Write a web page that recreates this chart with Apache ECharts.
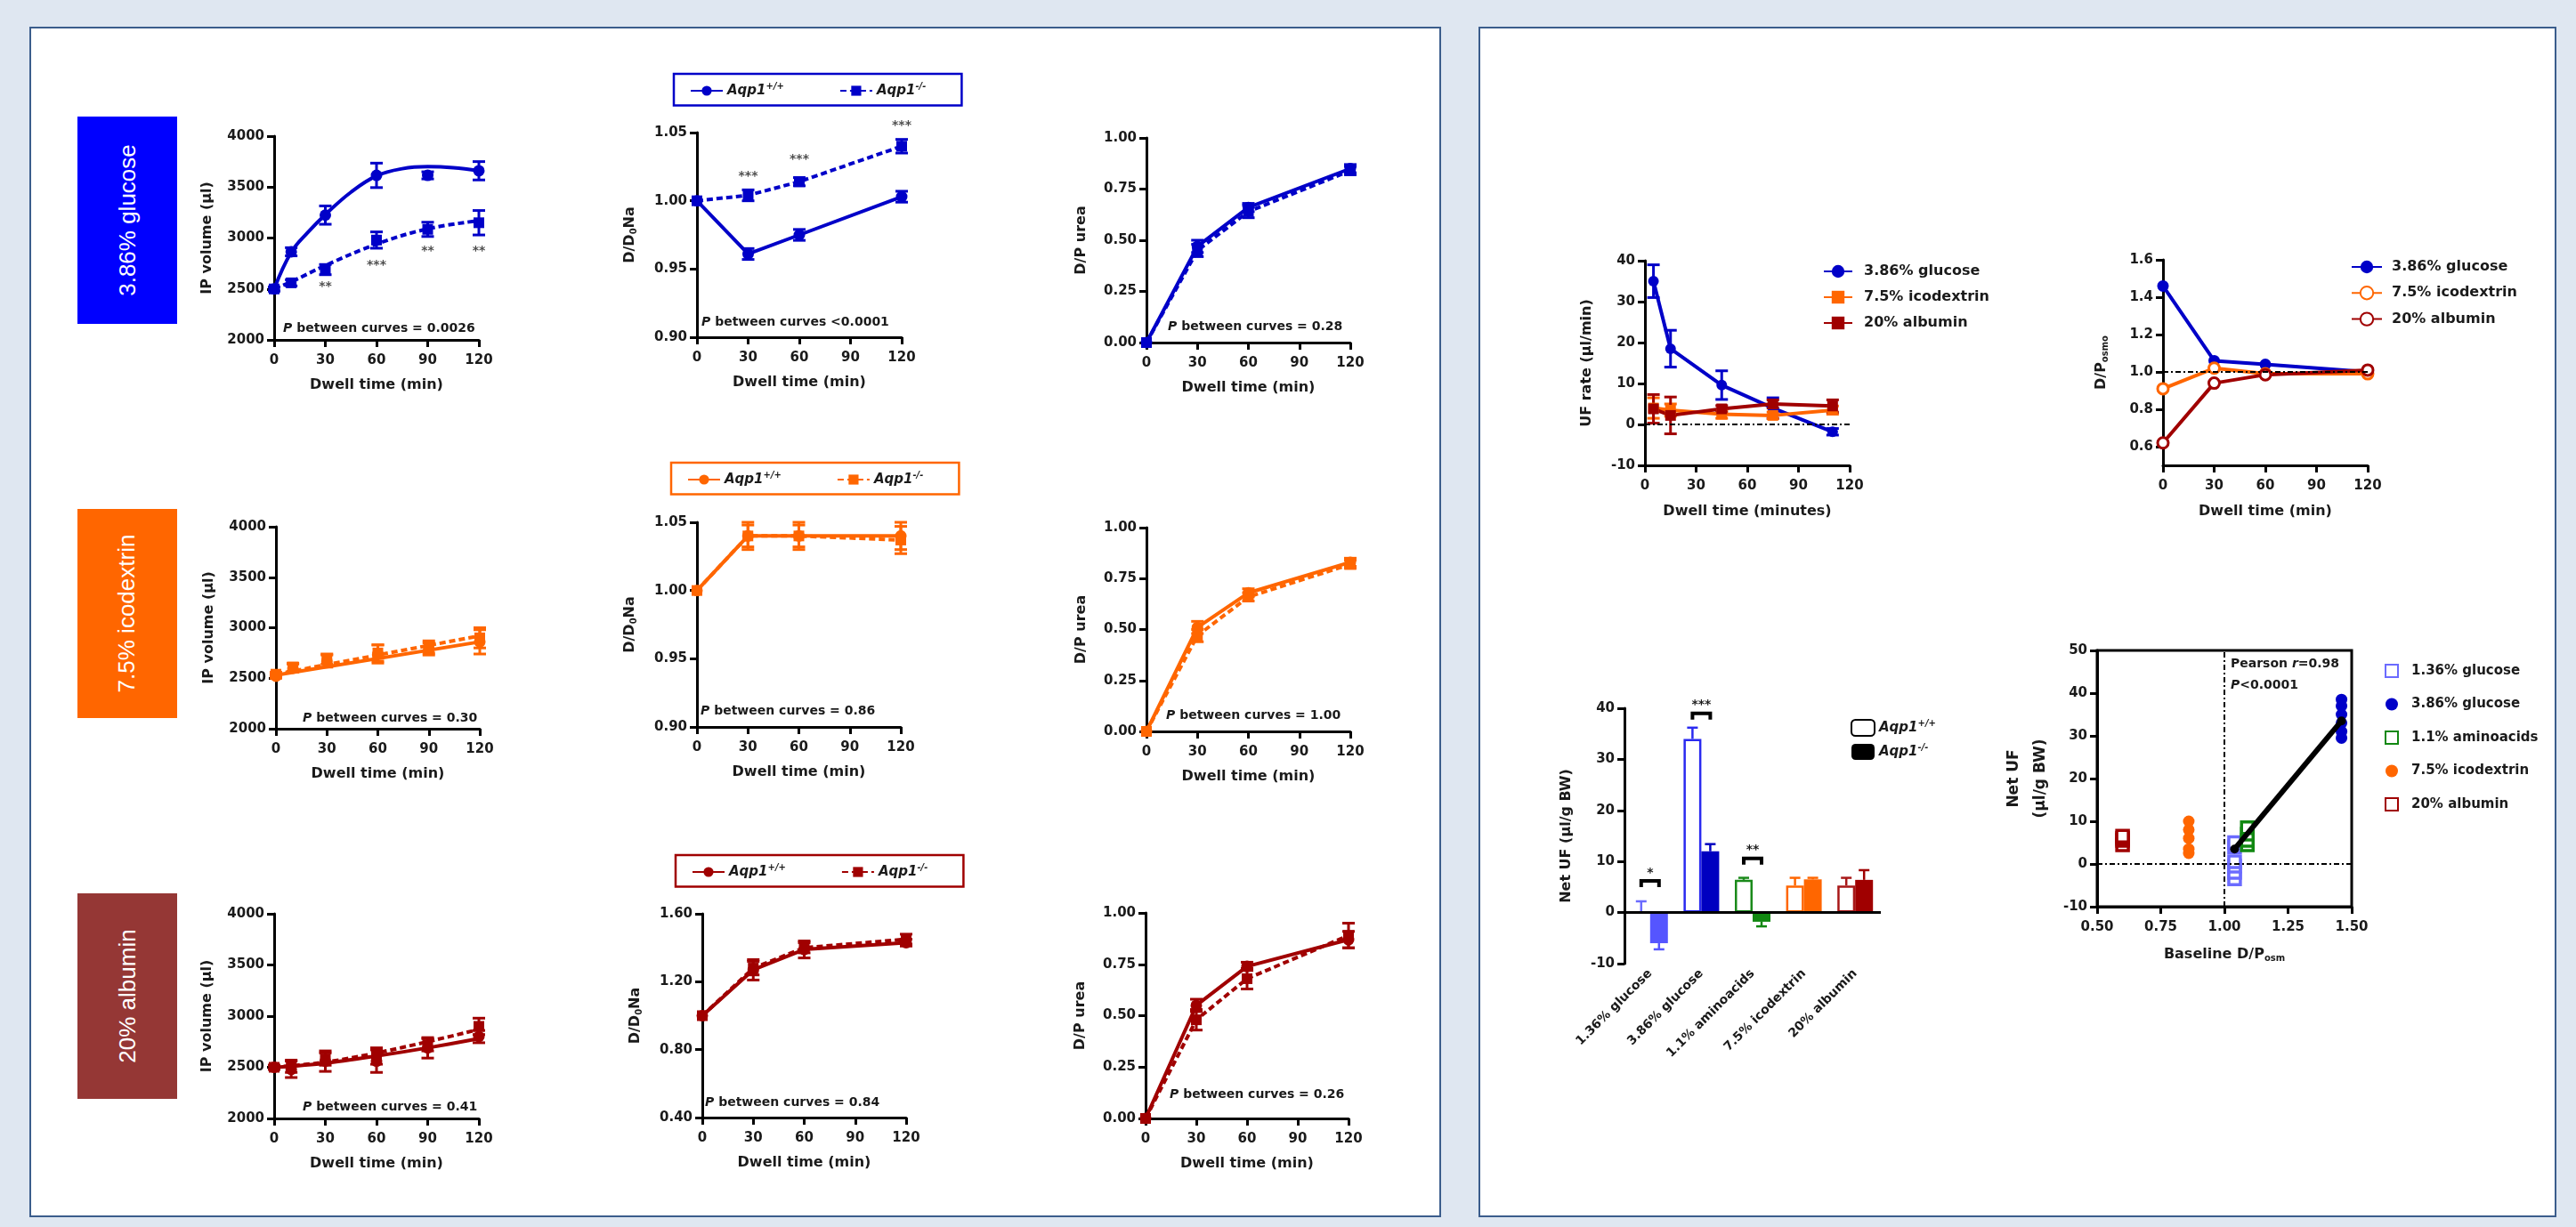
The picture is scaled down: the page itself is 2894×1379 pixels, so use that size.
<!doctype html>
<html>
<head>
<meta charset="utf-8">
<title>Aqp1 - dialysis dwell</title>
<script src="https://cdn.jsdelivr.net/npm/echarts@6/dist/echarts.min.js"></script>
<style>
html, body { margin: 0; padding: 0; background: #dfe7f1; }
#wrap { position: relative; width: 2894px; height: 1379px; }
.panel { position: absolute; background: #fff; border: 2px solid #3b5d8c; box-sizing: border-box; }
.tag { position: absolute; color: #fff; font-family: 'Liberation Sans', Arial, sans-serif; font-size: 26px;
       display: flex; align-items: center; justify-content: center; }
.tag span { transform: rotate(-90deg); white-space: nowrap; }
#main { position: absolute; left: 0; top: 0; width: 2894px; height: 1379px; }
</style>
</head>
<body>
<div id="wrap">
  <div class="panel" style="left:33px;top:30px;width:1586px;height:1338px"></div>
  <div class="panel" style="left:1661px;top:30px;width:1211px;height:1338px"></div>
  <div class="tag" style="left:87px;top:131px;width:112px;height:233px;background:#0000ff"><span>3.86% glucose</span></div>
  <div class="tag" style="left:87px;top:572px;width:112px;height:235px;background:#ff6600"><span>7.5% icodextrin</span></div>
  <div class="tag" style="left:87px;top:1004px;width:112px;height:231px;background:#953735"><span>20% albumin</span></div>
  <div id="main"></div>
</div>
<script>
var BLUE = '#0000c8', ORANGE = '#ff6600', RED = '#a00000';
var FONT = 'DejaVu Sans';
var INK = '#1a1a1a';

// ---- time points ----
var tVol = [0, 10, 30, 60, 90, 120];
var tNa = [0, 30, 60, 120];
var tUrea = [0, 30, 60, 120];

// ---- 3.86% glucose ----
var glcVolWt = [2500, 2865, 3225, 3615, 3615, 3660];
var glcVolWtErr = [20, 40, 90, 120, 35, 90];
var glcVolKo = [2500, 2560, 2690, 2980, 3085, 3150];
var glcVolKoErr = [20, 30, 50, 80, 70, 120];
var glcFitWtT = [0, 10, 20, 30, 45, 60, 75, 90, 105, 120];
var glcFitWt = [2500, 2860, 3060, 3230, 3450, 3610, 3680, 3700, 3690, 3660];
var glcFitKoT = [0, 10, 30, 60, 90, 120];
var glcFitKo = [2500, 2570, 2730, 2940, 3090, 3170];
var glcVolStarT = [30, 60, 90, 120];
var glcVolStarY = [2520, 2730, 2870, 2870];
var glcVolStars = ['**', '***', '**', '**'];

var glcNaWt = [1.000, 0.961, 0.975, 1.003];
var glcNaWtErr = [0, 0.004, 0.004, 0.004];
var glcNaKo = [1.000, 1.004, 1.014, 1.040];
var glcNaKoErr = [0, 0.004, 0.003, 0.005];
var glcNaStarT = [30, 60, 120];
var glcNaStarY = [1.018, 1.030, 1.055];
var glcNaStars = ['***', '***', '***'];

var glcUreaWt = [0, 0.47, 0.66, 0.85];
var glcUreaWtErr = [0, 0.03, 0.02, 0.02];
var glcUreaKo = [0, 0.45, 0.64, 0.84];
var glcUreaKoErr = [0, 0.03, 0.03, 0.02];

// ---- 7.5% icodextrin ----
var icoVolWt = [2520, 2600, 2670, 2740, 2790, 2860];
var icoVolWtErr = [20, 40, 60, 90, 60, 120];
var icoVolKo = [2540, 2610, 2690, 2750, 2810, 2900];
var icoVolKoErr = [20, 40, 50, 80, 60, 100];
var icoFitT = [0, 120];
var icoFitWt = [2530, 2860];
var icoFitKo = [2540, 2920];

var icoNaWt = [1.000, 1.040, 1.040, 1.040];
var icoNaWtErr = [0, 0.010, 0.010, 0.010];
var icoNaKo = [1.000, 1.040, 1.040, 1.037];
var icoNaKoErr = [0, 0.008, 0.008, 0.010];

var icoUreaWt = [0, 0.51, 0.68, 0.83];
var icoUreaWtErr = [0, 0.03, 0.02, 0.02];
var icoUreaKo = [0, 0.47, 0.66, 0.82];
var icoUreaKoErr = [0, 0.03, 0.02, 0.02];

// ---- 20% albumin ----
var albVolWt = [2500, 2480, 2560, 2560, 2690, 2800];
var albVolWtErr = [20, 80, 100, 110, 100, 60];
var albVolKo = [2500, 2510, 2580, 2610, 2720, 2900];
var albVolKoErr = [20, 60, 60, 80, 60, 80];
var albFitT = [0, 30, 60, 90, 120];
var albFitWt = [2500, 2540, 2610, 2690, 2780];
var albFitKo = [2500, 2550, 2640, 2750, 2870];

var albNaWt = [1.00, 1.27, 1.39, 1.43];
var albNaWtErr = [0, 0.06, 0.05, 0.02];
var albNaKo = [1.00, 1.28, 1.40, 1.45];
var albNaKoErr = [0, 0.04, 0.03, 0.03];

var albUreaWt = [0, 0.55, 0.74, 0.87];
var albUreaWtErr = [0, 0.03, 0.02, 0.04];
var albUreaKo = [0, 0.48, 0.68, 0.89];
var albUreaKoErr = [0, 0.05, 0.05, 0.06];

// ---- right panel: UF rate ----
var tUf = [5, 15, 45, 75, 110];
var ufGlc = [35, 18.5, 9.6, 4, -1.8];
var ufGlcErr = [4, 4.5, 3.5, 2.5, 0.8];
var ufIco = [4, 3.5, 2.5, 2.2, 3.5];
var ufIcoErr = [2.5, 1.5, 1, 0.8, 1];
var ufAlb = [3.8, 2.2, 3.8, 5, 4.5];
var ufAlbErr = [3.5, 4.5, 0.8, 1, 1.5];

// ---- D/P osmo ----
var tOsm = [0, 30, 60, 120];
var osmGlc = [1.46, 1.06, 1.04, 1.00];
var osmIco = [0.91, 1.02, 0.99, 0.99];
var osmAlb = [0.62, 0.94, 0.985, 1.01];
var osmTicks = [0.6, 0.8, 1.0, 1.2, 1.4, 1.6];

// ---- Net UF bars ----
var netUfCats = ['1.36% glucose', '3.86% glucose', '1.1% aminoacids', '7.5% icodextrin', '20% albumin'];
var netUfWt = [0, 34, 6.4, 5.3, 5.3];
var netUfWtErr = [2.2, 2.2, 0.4, 1.5, 1.5];
var netUfKo = [-6, 12, -1.8, 6.5, 6.4];
var netUfKoErr = [1.2, 1.4, 0.9, 0.3, 1.9];
var sigCat = [0, 1, 2];
var sigLevel = [6.2, 39, 10.6];
var sigText = ['*', '***', '**'];
var catOpen = ['#6b6bff', '#2a2af0', '#1a8a1a', '#ff6600', '#a81818'];
var catFill = ['#5555ff', '#0000c0', '#118811', '#ff6600', '#a00000'];

// ---- Net UF vs baseline D/P osm ----
var scAlbX = [0.60, 0.60, 0.60, 0.60];
var scAlbY = [4.5, 5.5, 6, 6.5];
var scIcoX = [0.86, 0.86, 0.86, 0.86, 0.86];
var scIcoY = [2.5, 3.5, 6, 8, 10];
var sc136X = [1.04, 1.04, 1.04, 1.04, 1.04, 1.04];
var sc136Y = [-3.5, -2, -0.5, 0.5, 4, 5];
var scAaX = [1.09, 1.09, 1.09, 1.09];
var scAaY = [4.5, 5.5, 7, 8.5];
var sc386X = [1.46, 1.46, 1.46, 1.46, 1.46, 1.46];
var sc386Y = [29.5, 31, 33, 35, 37, 38.5];
var regX = [1.04, 1.46];
var regY = [3.5, 33.5];

var legendLabels = {
  glcNaWt: '{i|Aqp1}{s|+/+}', glcNaKo: '{i|Aqp1}{s|-/-}',
  icoNaWt: '{i|Aqp1}{s|+/+}', icoNaKo: '{i|Aqp1}{s|-/-}',
  albNaWt: '{i|Aqp1}{s|+/+}', albNaKo: '{i|Aqp1}{s|-/-}',
  ufGlc: '3.86% glucose', ufIco: '7.5% icodextrin', ufAlb: '20% albumin',
  osmGlc: '3.86% glucose', osmIco: '7.5% icodextrin', osmAlb: '20% albumin',
  barWt: '{i|Aqp1}{s|+/+}', barKo: '{i|Aqp1}{s|-/-}',
  sc136: '1.36% glucose', sc386: '3.86% glucose', scAa: '1.1% aminoacids',
  scIco: '7.5% icodextrin', scAlb: '20% albumin'
};

var grids = [], xAxes = [], yAxes = [], series = [], titles = [], legends = [];

function zip(a, b) { return a.map(function (v, i) { return [v, b[i]]; }); }

function nameStyle(size) {
  var s = size || 16;
  return {
    fontFamily: FONT, fontSize: s, fontWeight: 'bold', color: INK,
    rich: {
      a: { fontFamily: FONT, fontSize: s, fontWeight: 'bold', color: INK },
      b: { fontFamily: FONT, fontSize: 10, fontWeight: 'bold', color: INK, padding: [9, 0, 0, 0] }
    }
  };
}
function axisBase(gi, min, max, interval, name, dec, gap, labelMargin) {
  return {
    type: 'value', gridIndex: gi, min: min, max: max, interval: interval,
    name: name, nameLocation: 'middle', nameGap: gap, nameTextStyle: nameStyle(),
    axisLine: { show: true, onZero: false, lineStyle: { color: '#000', width: 3 } },
    axisTick: { show: true, length: 8, lineStyle: { color: '#000', width: 3 } },
    splitLine: { show: false },
    axisLabel: {
      margin: labelMargin, fontFamily: FONT, fontSize: 15, fontWeight: 'bold', color: INK,
      formatter: function (v) { return v.toFixed(dec); }
    }
  };
}
function xVal(gi, min, max, interval, name, dec, gap) { return axisBase(gi, min, max, interval, name, dec, gap || 43, 16); }
function yVal(gi, min, max, interval, name, dec, gap) { return axisBase(gi, min, max, interval, name, dec, gap || 66, 11); }

function lineS(gi, name, data, color, dashed, symbol, size, hollow, smooth) {
  return {
    type: 'line', name: name, xAxisIndex: gi, yAxisIndex: gi, data: data,
    symbol: symbol || 'none', symbolSize: size || 13, showSymbol: !!symbol,
    smooth: smooth || false,
    lineStyle: { color: color, width: 4, type: dashed ? [7, 4] : 'solid' },
    itemStyle: { color: hollow ? '#fff' : color, borderColor: color, borderWidth: hollow ? 3 : 0 },
    z: 4
  };
}
function markS(gi, name, data, color, symbol, size) {
  return {
    type: 'scatter', name: name, xAxisIndex: gi, yAxisIndex: gi, data: data,
    symbol: symbol, symbolSize: size || 13, itemStyle: { color: color, opacity: 1 }, z: 5
  };
}
function errSeries(gi, color, ts, vals, errs, capW) {
  var d = [];
  for (var i = 0; i < ts.length; i++) {
    if (errs[i] > 0) d.push([ts[i], vals[i] - errs[i], vals[i] + errs[i]]);
  }
  return {
    type: 'custom', xAxisIndex: gi, yAxisIndex: gi, silent: true, z: 3, data: d,
    encode: { x: 0, y: [1, 2] },
    renderItem: function (params, api) {
      var a = api.coord([api.value(0), api.value(1)]);
      var b = api.coord([api.value(0), api.value(2)]);
      var st = { stroke: color, lineWidth: 3 };
      var c = capW || 7;
      return { type: 'group', children: [
        { type: 'line', shape: { x1: a[0], y1: a[1], x2: b[0], y2: b[1] }, style: st },
        { type: 'line', shape: { x1: a[0] - c, y1: a[1], x2: a[0] + c, y2: a[1] }, style: st },
        { type: 'line', shape: { x1: b[0] - c, y1: b[1], x2: b[0] + c, y2: b[1] }, style: st }
      ] };
    }
  };
}
function starS(gi, ts, ys, txt) {
  return {
    type: 'scatter', xAxisIndex: gi, yAxisIndex: gi, symbolSize: 1, clip: false, silent: true,
    itemStyle: { color: 'rgba(0,0,0,0)' },
    data: ts.map(function (t, i) { return { value: [t, ys[i]], name: txt[i] }; }),
    label: { show: true, position: 'inside', formatter: '{b}', fontFamily: FONT, fontSize: 14, fontWeight: 'bold', color: INK },
    z: 6
  };
}
function note(text, left, top, size) {
  var s = size || 14;
  titles.push({
    text: text, left: left, top: top, padding: 0,
    textStyle: {
      fontFamily: FONT, fontSize: s, fontWeight: 'bold', color: INK,
      rich: {
        n: { fontFamily: FONT, fontSize: s, fontWeight: 'bold', color: INK },
        i: { fontFamily: FONT, fontSize: s, fontWeight: 'bold', fontStyle: 'italic', color: INK }
      }
    }
  });
}
var legendRich = {
  i: { fontFamily: FONT, fontSize: 15, fontWeight: 'bold', fontStyle: 'italic', color: INK },
  s: { fontFamily: FONT, fontSize: 10, fontWeight: 'bold', fontStyle: 'italic', color: INK, padding: [0, 0, 10, 0] }
};
function legendFmt(n) { return legendLabels[n] || n; }

// one dwell-time panel of the left block
function addDwellPanel(p) {
  var gi = grids.length;
  grids.push({ left: p.box[0], top: p.box[1], width: p.box[2], height: p.box[3] });
  xAxes.push(xVal(gi, 0, 120, 30, 'Dwell time (min)', 0));
  yAxes.push(yVal(gi, p.ymin, p.ymax, p.step, p.yname, p.dec, p.ygap));
  if (p.fitWt) {
    series.push(lineS(gi, p.id + 'WtFit', zip(p.fitWtT, p.fitWt), p.color, false, null, 0, false, p.smooth));
    series.push(lineS(gi, p.id + 'KoFit', zip(p.fitKoT, p.fitKo), p.color, true, null, 0, false, p.smooth));
    series.push(markS(gi, p.id + 'Wt', zip(p.t, p.wt), p.color, 'circle', 13));
    series.push(markS(gi, p.id + 'Ko', zip(p.t, p.ko), p.color, 'rect', 12));
  } else {
    series.push(lineS(gi, p.id + 'Wt', zip(p.t, p.wt), p.color, false, 'circle', 13));
    series.push(lineS(gi, p.id + 'Ko', zip(p.t, p.ko), p.color, true, 'rect', 12));
  }
  series.push(errSeries(gi, p.color, p.t, p.wt, p.wtErr));
  series.push(errSeries(gi, p.color, p.t, p.ko, p.koErr));
  if (p.starT) series.push(starS(gi, p.starT, p.starY, p.stars));
  note(p.ptext, p.pPos[0], p.pPos[1]);
  if (p.legend) {
    legends.push({
      data: [p.id + 'Wt', p.id + 'Ko'], left: p.legend[0], top: p.legend[1], orient: 'horizontal',
      borderColor: p.color, borderWidth: 2.5, padding: [9, 40, 9, 18], itemGap: 62,
      itemWidth: 36, itemHeight: 14, selectedMode: false, formatter: legendFmt,
      textStyle: { fontFamily: FONT, fontSize: 15, fontWeight: 'bold', color: INK, rich: legendRich }
    });
  }
}

var VOL = '{a|IP volume (µl)}';
var NA = '{a|D/D}{b|0}{a|Na}';
var UREA = '{a|D/P urea}';

// row 1 - 3.86% glucose
addDwellPanel({ id: 'glcVol', box: [308, 153, 230, 229], ymin: 2000, ymax: 4000, step: 500, yname: VOL, dec: 0, ygap: 67,
  color: BLUE, t: tVol, wt: glcVolWt, wtErr: glcVolWtErr, ko: glcVolKo, koErr: glcVolKoErr,
  fitWtT: glcFitWtT, fitWt: glcFitWt, fitKoT: glcFitKoT, fitKo: glcFitKo, smooth: 0.4,
  starT: glcVolStarT, starY: glcVolStarY, stars: glcVolStars,
  ptext: '{i|P} between curves = 0.0026', pPos: [318, 362] });
addDwellPanel({ id: 'glcNa', box: [783, 149, 230, 230], ymin: 0.90, ymax: 1.05, step: 0.05, yname: NA, dec: 2, ygap: 66,
  color: BLUE, t: tNa, wt: glcNaWt, wtErr: glcNaWtErr, ko: glcNaKo, koErr: glcNaKoErr,
  starT: glcNaStarT, starY: glcNaStarY, stars: glcNaStars,
  ptext: '{i|P} between curves <0.0001', pPos: [788, 355], legend: [757, 83] });
addDwellPanel({ id: 'glcUrea', box: [1288, 155, 229, 230], ymin: 0, ymax: 1, step: 0.25, yname: UREA, dec: 2, ygap: 65,
  color: BLUE, t: tUrea, wt: glcUreaWt, wtErr: glcUreaWtErr, ko: glcUreaKo, koErr: glcUreaKoErr,
  ptext: '{i|P} between curves = 0.28', pPos: [1312, 360] });

// row 2 - 7.5% icodextrin
addDwellPanel({ id: 'icoVol', box: [310, 592, 229, 227], ymin: 2000, ymax: 4000, step: 500, yname: VOL, dec: 0, ygap: 67,
  color: ORANGE, t: tVol, wt: icoVolWt, wtErr: icoVolWtErr, ko: icoVolKo, koErr: icoVolKoErr,
  fitWtT: icoFitT, fitWt: icoFitWt, fitKoT: icoFitT, fitKo: icoFitKo,
  ptext: '{i|P} between curves = 0.30', pPos: [340, 800] });
addDwellPanel({ id: 'icoNa', box: [783, 587, 229, 230], ymin: 0.90, ymax: 1.05, step: 0.05, yname: NA, dec: 2, ygap: 66,
  color: ORANGE, t: tNa, wt: icoNaWt, wtErr: icoNaWtErr, ko: icoNaKo, koErr: icoNaKoErr,
  ptext: '{i|P} between curves = 0.86', pPos: [787, 792], legend: [754, 520] });
addDwellPanel({ id: 'icoUrea', box: [1288, 593, 229, 229], ymin: 0, ymax: 1, step: 0.25, yname: UREA, dec: 2, ygap: 65,
  color: ORANGE, t: tUrea, wt: icoUreaWt, wtErr: icoUreaWtErr, ko: icoUreaKo, koErr: icoUreaKoErr,
  ptext: '{i|P} between curves = 1.00', pPos: [1310, 797] });

// row 3 - 20% albumin
addDwellPanel({ id: 'albVol', box: [308, 1027, 230, 230], ymin: 2000, ymax: 4000, step: 500, yname: VOL, dec: 0, ygap: 67,
  color: RED, t: tVol, wt: albVolWt, wtErr: albVolWtErr, ko: albVolKo, koErr: albVolKoErr,
  fitWtT: albFitT, fitWt: albFitWt, fitKoT: albFitT, fitKo: albFitKo, smooth: 0.3,
  ptext: '{i|P} between curves = 0.41', pPos: [340, 1237] });
addDwellPanel({ id: 'albNa', box: [789, 1027, 229, 229], ymin: 0.40, ymax: 1.60, step: 0.40, yname: NA, dec: 2, ygap: 66,
  color: RED, t: tNa, wt: albNaWt, wtErr: albNaWtErr, ko: albNaKo, koErr: albNaKoErr,
  ptext: '{i|P} between curves = 0.84', pPos: [792, 1232], legend: [759, 961] });
addDwellPanel({ id: 'albUrea', box: [1287, 1026, 228, 231], ymin: 0, ymax: 1, step: 0.25, yname: UREA, dec: 2, ygap: 65,
  color: RED, t: tUrea, wt: albUreaWt, wtErr: albUreaWtErr, ko: albUreaKo, koErr: albUreaKoErr,
  ptext: '{i|P} between curves = 0.26', pPos: [1314, 1223] });

// ---- right: UF rate ----
var giUf = grids.length;
grids.push({ left: 1848, top: 293, width: 230, height: 230 });
xAxes.push(xVal(giUf, 0, 120, 30, 'Dwell time (minutes)', 0, 44));
yAxes.push(yVal(giUf, -10, 40, 10, 'UF rate (µl/min)', 0, 57));
var ufDefs = [['ufGlc', ufGlc, ufGlcErr, BLUE, 'circle'], ['ufIco', ufIco, ufIcoErr, ORANGE, 'rect'], ['ufAlb', ufAlb, ufAlbErr, RED, 'rect']];
ufDefs.forEach(function (d) {
  series.push(lineS(giUf, d[0], zip(tUf, d[1]), d[3], false, d[4], 12));
  series.push(errSeries(giUf, d[3], tUf, d[1], d[2]));
});
series[series.length - 2].markLine = {
  silent: true, symbol: 'none', label: { show: false },
  lineStyle: { color: '#000', width: 2, type: [6, 3, 2, 3] }, data: [{ yAxis: 0 }]
};
legends.push({
  data: ['ufGlc', 'ufIco', 'ufAlb'], left: 2043, top: 292, orient: 'vertical', itemGap: 13,
  itemWidth: 32, itemHeight: 18, selectedMode: false, formatter: legendFmt,
  textStyle: { fontFamily: FONT, fontSize: 16, fontWeight: 'bold', color: INK, padding: [0, 0, 0, 8] }
});

// ---- right: D/P osmo ----
var giOsm = grids.length;
grids.push({ left: 2430, top: 292, width: 230, height: 231 });
xAxes.push(xVal(giOsm, 0, 120, 30, 'Dwell time (min)', 0, 44));
var osmY = yVal(giOsm, 0.5, 1.6, 0.1, '{a|D/P}{b|osmo}', 1, 60);
osmY.axisLabel.customValues = osmTicks;
osmY.axisTick.customValues = osmTicks;
yAxes.push(osmY);
series.push(lineS(giOsm, 'osmGlc', zip(tOsm, osmGlc), BLUE, false, 'circle', 13));
series.push(lineS(giOsm, 'osmIco', zip(tOsm, osmIco), ORANGE, false, 'circle', 12, true));
series.push(lineS(giOsm, 'osmAlb', zip(tOsm, osmAlb), RED, false, 'circle', 12, true));
series[series.length - 3].markLine = {
  silent: true, symbol: 'none', label: { show: false },
  lineStyle: { color: '#000', width: 2, type: [6, 3, 2, 3] }, data: [{ yAxis: 1 }]
};
legends.push({
  data: ['osmGlc', 'osmIco', 'osmAlb'], left: 2636, top: 287, orient: 'vertical', itemGap: 13,
  itemWidth: 34, itemHeight: 18, selectedMode: false, formatter: legendFmt,
  textStyle: { fontFamily: FONT, fontSize: 16, fontWeight: 'bold', color: INK, padding: [0, 0, 0, 6] }
});

// ---- right: Net UF bars ----
var giBar = grids.length;
grids.push({ left: 1825, top: 796, width: 288, height: 287 });
xAxes.push({
  type: 'category', gridIndex: giBar, data: netUfCats,
  axisLine: { show: false }, axisTick: { show: false },
  axisLabel: { rotate: 45, margin: 9, interval: 0, fontFamily: FONT, fontSize: 14, fontWeight: 'bold', color: INK }
});
yAxes.push(yVal(giBar, -10, 40, 10, 'Net UF (µl/g BW)', 0, 57));
series.push({
  type: 'bar', name: 'barWt', xAxisIndex: giBar, yAxisIndex: giBar, barWidth: 20, barGap: '0%',
  itemStyle: { color: '#fff', borderColor: '#000', borderWidth: 2.5 },
  data: netUfWt.map(function (v, i) { return { value: v, itemStyle: { color: '#fff', borderColor: catOpen[i], borderWidth: 2.5 } }; }),
  markLine: { silent: true, symbol: 'none', label: { show: false }, lineStyle: { color: '#000', width: 3, type: 'solid' }, data: [{ yAxis: 0 }] },
  z: 3
});
series.push({
  type: 'bar', name: 'barKo', xAxisIndex: giBar, yAxisIndex: giBar, barWidth: 20, barGap: '0%',
  itemStyle: { color: '#000' },
  data: netUfKo.map(function (v, i) { return { value: v, itemStyle: { color: catFill[i] } }; }),
  z: 3
});
function barErr(vals, errs, side, cols) {
  return {
    type: 'custom', xAxisIndex: giBar, yAxisIndex: giBar, silent: true, z: 4,
    data: vals.map(function (v, i) { return [i, v, v + (v < 0 ? -errs[i] : errs[i])]; }),
    renderItem: function (params, api) {
      var a = api.coord([api.value(0), api.value(1)]);
      var b = api.coord([api.value(0), api.value(2)]);
      var x = a[0] + side * 10;
      var st = { stroke: cols[params.dataIndex], lineWidth: 2.5 };
      return { type: 'group', children: [
        { type: 'line', shape: { x1: x, y1: a[1], x2: x, y2: b[1] }, style: st },
        { type: 'line', shape: { x1: x - 6, y1: b[1], x2: x + 6, y2: b[1] }, style: st }
      ] };
    }
  };
}
series.push(barErr(netUfWt, netUfWtErr, -1, catOpen));
series.push(barErr(netUfKo, netUfKoErr, 1, catFill));
series.push({
  type: 'custom', xAxisIndex: giBar, yAxisIndex: giBar, silent: true, z: 5,
  data: sigCat.map(function (c, i) { return [c, sigLevel[i]]; }),
  renderItem: function (params, api) {
    var p = api.coord([api.value(0), api.value(1)]);
    var x1 = p[0] - 10, x2 = p[0] + 10, y = p[1];
    return { type: 'group', children: [
      { type: 'polyline', shape: { points: [[x1, y + 7], [x1, y], [x2, y], [x2, y + 7]] }, style: { stroke: '#000', lineWidth: 4, fill: null } },
      { type: 'text', x: p[0], y: y - 2, style: { text: sigText[params.dataIndex], align: 'center', verticalAlign: 'bottom', font: 'bold 14px "DejaVu Sans"', fill: INK } }
    ] };
  }
});
legends.push({
  data: ['barWt', 'barKo'], left: 2074, top: 803, orient: 'vertical', itemGap: 7,
  itemWidth: 26, itemHeight: 18, selectedMode: false, formatter: legendFmt,
  textStyle: { fontFamily: FONT, fontSize: 15, fontWeight: 'bold', color: INK, rich: legendRich }
});

// ---- right: Net UF vs baseline D/P osm ----
var giSc = grids.length;
grids.push({ left: 2356, top: 731, width: 286, height: 288, show: true, borderColor: '#000', borderWidth: 3 });
xAxes.push(xVal(giSc, 0.5, 1.5, 0.25, '{a|Baseline D/P}{b|osm}', 2, 44));
var scY = yVal(giSc, -10, 50, 10, 'Net UF\n(µl/g BW)', 0, 48);
scY.nameTextStyle.lineHeight = 30;
scY.nameTextStyle.fontSize = 17;
yAxes.push(scY);
series.push({
  type: 'line', name: 'reg', xAxisIndex: giSc, yAxisIndex: giSc, data: zip(regX, regY),
  symbol: 'circle', symbolSize: 10, itemStyle: { color: '#000' }, lineStyle: { color: '#000', width: 6 }, z: 6,
  markLine: {
    silent: true, symbol: 'none', label: { show: false },
    lineStyle: { color: '#000', width: 2, type: [6, 3, 2, 3] }, data: [{ xAxis: 1 }, { yAxis: 0 }]
  }
});
function scS(name, xs, ys, color, symbol, hollow) {
  return {
    type: 'scatter', name: name, xAxisIndex: giSc, yAxisIndex: giSc, data: zip(xs, ys),
    symbol: symbol, symbolSize: 13, z: 4,
    itemStyle: { color: hollow ? '#fff' : color, borderColor: color, borderWidth: hollow ? 3.5 : 0, opacity: 1 }
  };
}
series.push(scS('sc136', sc136X, sc136Y, '#6b6bff', 'rect', true));
series.push(scS('sc386', sc386X, sc386Y, BLUE, 'circle', false));
series.push(scS('scAa', scAaX, scAaY, '#118811', 'rect', true));
series.push(scS('scIco', scIcoX, scIcoY, ORANGE, 'circle', false));
series.push(scS('scAlb', scAlbX, scAlbY, RED, 'rect', true));
note('{n|Pearson }{i|r}{n|=0.98}', 2506, 739, 14);
note('{i|P}{n|<0.0001}', 2506, 763, 14);
legends.push({
  data: ['sc136', 'sc386', 'scAa', 'scIco', 'scAlb'], left: 2674, top: 741, orient: 'vertical', itemGap: 22,
  itemWidth: 14, itemHeight: 14, selectedMode: false, formatter: legendFmt,
  textStyle: { fontFamily: FONT, fontSize: 15, fontWeight: 'bold', color: INK, padding: [0, 0, 0, 10] }
});

var chart = echarts.init(document.getElementById('main'));
chart.setOption({
  animation: false,
  title: titles,
  legend: legends,
  grid: grids,
  xAxis: xAxes,
  yAxis: yAxes,
  series: series
});
</script>
</body>
</html>
